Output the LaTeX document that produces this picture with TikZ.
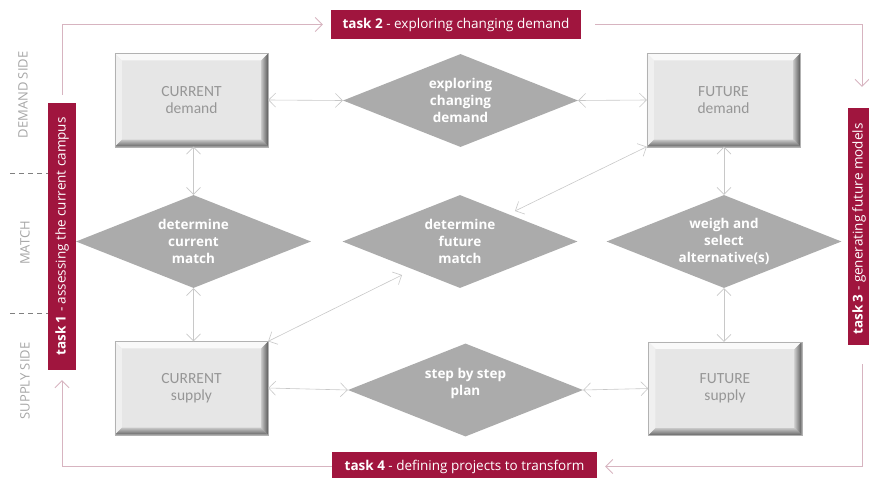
\documentclass[tikz,border=0pt]{standalone}
\usepackage{fontspec}
\setmainfont{Open Sans}
\newfontfamily\boxfont{Carlito}
\usetikzlibrary{shapes.geometric,arrows.meta,calc}
\definecolor{crimson}{RGB}{160,21,62}
\definecolor{loopc}{RGB}{215,180,192}
\definecolor{connc}{RGB}{200,200,200}
\definecolor{diamc}{RGB}{171,171,171}
\definecolor{boxtext}{RGB}{150,150,150}
\definecolor{sidec}{RGB}{166,166,166}
\definecolor{face}{RGB}{230,230,230}
\newcommand\bevelbox[1]{%
 \fill[white!95!gray] (#1.north west) -- (#1.north east) -- ($(#1.north east)+(-7pt,-7pt)$) -- ($(#1.north west)+(7pt,-7pt)$) -- cycle;
 \fill[white!88!gray] (#1.north west) -- ($(#1.north west)+(7pt,-7pt)$) -- ($(#1.south west)+(7pt,7pt)$) -- (#1.south west) -- cycle;
 \shade[left color=gray!45, right color=black!65] (#1.north east) -- (#1.south east) -- ($(#1.south east)+(-7pt,7pt)$) -- ($(#1.north east)+(-7pt,-7pt)$) -- cycle;
 \shade[top color=gray!45, bottom color=black!60] (#1.south west) -- ($(#1.south west)+(7pt,7pt)$) -- ($(#1.south east)+(-7pt,7pt)$) -- (#1.south east) -- cycle;
 \draw[gray!60, line width=0.4pt] (#1.north west) rectangle (#1.south east);
}
\tikzset{
 bbox/.style={rectangle, fill=face, minimum width=153pt, minimum height=93pt, inner sep=0pt, font=\boxfont\fontsize{15.5}{17}\selectfont, text=boxtext, align=center},
 diam/.style={diamond, fill=diamc, minimum width=235pt, minimum height=93pt, inner sep=0pt, aspect=2.5, font=\bfseries\fontsize{13.5}{17}\selectfont, text=white, align=center},
 dtext/.style={inner sep=0pt, font=\bfseries\fontsize{13.5}{17}\selectfont, text=white, align=center},
 taskbox/.style={rectangle, fill=crimson, inner sep=0pt},
 tasktext/.style={text=white, font=\fontsize{13.5}{15}\selectfont, inner sep=0pt},
 conn/.style={draw=connc, line width=0.6pt, >={Straight Barb[length=7pt,width=14pt]}, <->},
 loopline/.style={draw=loopc, line width=0.8pt, >={Straight Barb[length=7pt,width=14pt]}, ->},
 side/.style={text=sidec, font=\fontsize{13}{15}\selectfont, rotate=90, inner sep=0pt},
 sepline/.style={draw=black!50, dash pattern=on 5pt off 4pt, line width=0.8pt}
}
\begin{document}
\begin{tikzpicture}[x=1pt,y=-1pt]
\useasboundingbox (0,0) rectangle (869,477);
\clip (0,0) rectangle (869,477);

% boxes
\node[bbox] (cd) at (191.5,100) {CURRENT\\demand};
\node[bbox] (fd) at (723.5,100) {FUTURE\\demand};
\node[bbox] (cs) at (191.5,388) {CURRENT\\supply};
\node[bbox] (fs) at (725,388.5) {FUTURE\\supply};
\bevelbox{cd}\bevelbox{fd}\bevelbox{cs}\bevelbox{fs}

% diamonds
\node[diam] (exp) at (460.5,100.5) {exploring\\changing\\demand};
\node[diam] (cm) at (193.5,241.5) {determine\\current\\match};
\node[diam] (fm) at (460,241.5) {determine\\future\\match};
\node[diam] (ws) at (724,241.5) {weigh and\\select\\alternative(s)};
\node[diam] (plan) at (465.5,390) {};
\node[dtext] (plantext) at (465.5,383) {step by step\\plan};

% task boxes
\node[taskbox, minimum width=250pt, minimum height=29pt] (t2) at (456,24.5) {};
\node[tasktext] (t2t) at (t2.center) {\textbf{task 2} - exploring changing demand};
\node[taskbox, minimum width=265pt, minimum height=29pt] (t4) at (464.5,466.5) {};
\node[tasktext] (t4t) at (t4.center) {\textbf{task 4} - defining projects to transform};
\node[taskbox, minimum width=28pt, minimum height=267pt] (t1) at (62,236.5) {};
\node[tasktext, rotate=90] (t1t) at (t1.center) {\textbf{task 1} - assessing the current campus};
\node[taskbox, minimum width=28pt, minimum height=237pt] (t3) at (862,226.5) {};
\node[tasktext, rotate=90] (t3t) at (859,229) {\textbf{task 3} - generating future models};

% loop
\draw[loopline, shorten <=8pt, shorten >=8pt] (t1.north) |- (t2.west);
\draw[loopline, shorten <=14pt, shorten >=21pt] (t2.east) -| (t3.north);
\draw[loopline, shorten <=19pt, shorten >=8pt] (t3.south) |- (t4.east);
\draw[loopline, shorten >=10pt] (t4.west) -| (t1.south);

% connectors
\coordinate (fmA) at (402,275);
\coordinate (fmB) at (515,211);
\draw[conn] (cd.east) -- (exp.west);
\draw[conn] (exp.east) -- (fd.west);
\draw[conn] (cd.south -| cm.north) -- (cm.north);
\draw[conn] (cm.south) -- (cs.north -| cm.south);
\draw[conn] (fd.south -| ws.north) -- (ws.north);
\draw[conn] (ws.south) -- (fs.north -| ws.south);
\draw[conn] (cs.east) -- (plan.west);
\draw[conn] (plan.east) -- (fs.west);
\draw[conn] (cs.north east) -- (fmA);
\draw[conn] (fmB) -- (fd.south west);

% side labels
\node[side] (ds) at (23,95) {DEMAND SIDE};
\node[side] (mt) at (25,243) {MATCH};
\node[side] (ss) at (25,381) {SUPPLY SIDE};
\coordinate (d1) at (10,173);
\coordinate (d2) at (10,313);
\draw[sepline] (d1) -- (d1 -| t1.west);
\draw[sepline] (d2) -- (d2 -| t1.west);
\end{tikzpicture}
\end{document}
